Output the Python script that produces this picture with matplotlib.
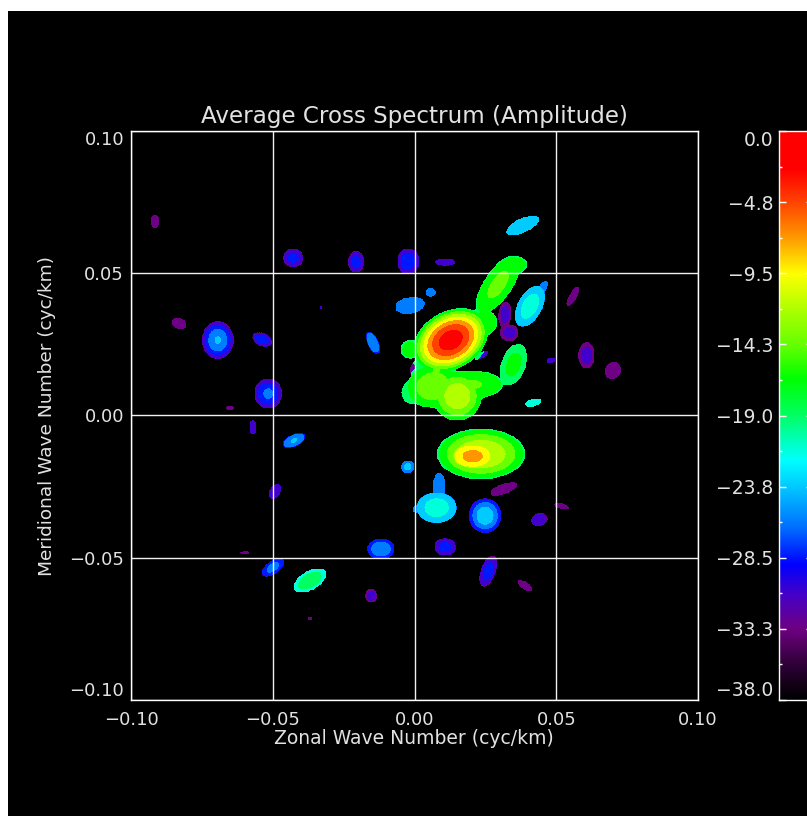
import numpy as np
import matplotlib
matplotlib.use("Agg")
import matplotlib.pyplot as plt
from matplotlib.colors import LinearSegmentedColormap, Normalize

W, H = 807, 816
plt.rcParams['font.family'] = ['DejaVu Sans']

title = "Average Cross Spectrum (Amplitude)"
xlabel = "Zonal Wave Number (cyc/km)"
ylabel = "Meridional Wave Number (cyc/km)"
axis_ticks = [-0.10, -0.05, 0.00, 0.05, 0.10]
axis_labels = ["\u22120.10", "\u22120.05", "0.00", "0.05", "0.10"]
cbar_ticks = [0.0, -4.75, -9.5, -14.25, -19.0, -23.75, -28.5, -33.25, -38.0]
cbar_labels = ["0.0", "\u22124.8", "\u22129.5", "\u221214.3", "\u221219.0", "\u221223.8", "\u221228.5", "\u221233.3", "\u221238.0"]
cbar_minor = [-2.375, -7.125, -11.875, -16.625, -21.375, -26.125, -30.875, -35.625]
levels = [-38.0, -33.25, -30.875, -28.5, -26.125, -23.75, -21.375, -19.0, -16.625,
          -14.25, -11.875, -9.5, -7.125, -4.75, -2.375, 0.0]

cmap_vals = [0, -2.5, -4.8, -7, -9.5, -12, -14.3, -16.5, -19, -22, -23.8, -26.5, -29, -31, -33.3, -35.5, -38]
cmap_rgb = [(255,0,0),(255,0,0),(255,70,0),(255,150,0),(255,255,0),(170,255,0),(100,255,0),(0,255,0),
            (0,255,100),(0,255,255),(0,200,255),(0,110,255),(0,0,255),(70,0,200),(110,0,130),(50,0,60),(0,0,0)]

# spectral patches
blob_x = [.0128,-.0016,.0249,.0078,.0295,.0343,.0151,.0065,.0206,-.0005,.0349,.0407,.0453,.0382,-.0022,.0108,-.0016,.0057,.0319,.0334,
          .0607,.0700,.0559,.0481,.0237,.0005,.0419,.0235,.0205,.0315,.0078,.0087,.0013,.0249,-.0024,.0440,
          .0519,.0108,-.0118,.0260,.0390,-.0915,-.0428,-.0206,-.0830,-.0694,-.0537,-.0147,-.0516,-.0651,
          -.0570,-.0425,-.0492,-.0499,-.0369,-.0153,-.0369,-.0598,-.0330]
blob_y = [.0265,.0232,.0327,.0162,.0460,.0525,.0068,.0103,.0109,.0081,.0179,.0384,.0450,.0668,.0542,.0539,.0387,.0433,.0355,.0291,
          .0211,.0158,.0419,.0194,.0212,.0170,.0045,-.0135,-.0143,-.0258,-.0324,-.0249,-.0330,-.0352,-.0180,-.0366,
          -.0319,-.0462,-.0469,-.0547,-.0598,.0683,.0554,.0540,.0323,.0265,.0267,.0256,.0077,.0027,
          -.0042,-.0088,-.0267,-.0534,-.0580,-.0633,-.0714,-.0482,.0380]
blob_peak = [-0.8,-16.0,-15.0,-14.0,-13.5,-15.5,-10.0,-12.5,-14.0,-17.5,-16.0,-20.0,-24.0,-22.5,-27.5,-29.0,-24.0,-26.0,-30.5,-30.5,
             -29.5,-31.5,-31.0,-30.0,-28.5,-31.5,-20.0,-9.5,-6.0,-32.0,-20.0,-24.0,-25.0,-22.0,-23.5,-29.0,
             -32.5,-27.5,-24.0,-27.0,-32.5,-33.0,-27.5,-27.5,-32.5,-23.5,-26.5,-24.0,-25.5,-31.5,
             -28.5,-23.5,-28.5,-25.0,-17.0,-30.0,-31.0,-32.0,-30.0]
blob_edge = [-17.5,-17.0,-17.0,-17.0,-17.0,-17.0,-17.0,-17.0,-17.0,-17.0,-18.0,-24.0,-25.0,-23.5,-30.0,-30.0,-25.5,-26.0,-31.5,-31.5,
             -33.0,-33.0,-33.0,-31.0,-30.0,-33.0,-21.5,-17.5,-9.5,-33.0,-24.0,-25.0,-25.5,-29.0,-24.5,-31.5,
             -33.0,-31.0,-28.5,-31.5,-33.0,-33.2,-31.5,-31.5,-33.0,-31.5,-31.5,-27.0,-31.5,-32.0,
             -29.5,-27.0,-31.0,-29.0,-21.0,-32.0,-32.0,-33.0,-30.5]
blob_major = [.0140,.0032,.0042,.0040,.0118,.0055,.0085,.0090,.0105,.0040,.0075,.0078,.0025,.0062,.0045,.0035,.0052,.0016,.0045,.0032,
              .0045,.0030,.0038,.0016,.0025,.0028,.0028,.0155,.0060,.0050,.0070,.0045,.0020,.0060,.0022,.0028,
              .0025,.0038,.0048,.0056,.0028,.0022,.0035,.0037,.0025,.0066,.0035,.0042,.0052,.0012,
              .0025,.0042,.0028,.0045,.0062,.0024,.0008,.0015,.0005]
blob_minor = [.0100,.0032,.0042,.0040,.0048,.0032,.0085,.0075,.0048,.0040,.0042,.0042,.0012,.0024,.0038,.0012,.0028,.0014,.0022,.0029,
              .0028,.0026,.0012,.0008,.0009,.0016,.0012,.0088,.0035,.0017,.0053,.0022,.0012,.0056,.0022,.0022,
              .0009,.0030,.0035,.0025,.0012,.0015,.0032,.0028,.0018,.0055,.0022,.0018,.0048,.0008,
              .0012,.0020,.0018,.0022,.0032,.0020,.0005,.0005,.0005]
blob_angle = [30,0,0,0,55,10,0,10,0,0,70,62,60,25,90,0,10,0,85,0,
              90,60,60,10,30,60,15,0,0,20,0,90,0,90,0,15,
              -15,0,0,70,-35,90,0,90,-20,90,-25,-65,90,0,
              90,25,60,35,30,90,0,0,0]

nx = 801
gx = np.linspace(-0.10, 0.10, nx)
gy = np.linspace(-0.10, 0.10, nx)
X, Y = np.meshgrid(gx, gy)
Z = np.full(X.shape, -60.0)
weight = np.zeros(X.shape)
soft = 0.12
for x0, y0, pk, ed, a, b, ang in zip(blob_x, blob_y, blob_peak, blob_edge, blob_major, blob_minor, blob_angle):
    t = np.deg2rad(ang)
    u = (X - x0) * np.cos(t) + (Y - y0) * np.sin(t)
    v = -(X - x0) * np.sin(t) + (Y - y0) * np.cos(t)
    d2 = (u / a) ** 2 + (v / b) ** 2
    weight += np.exp(-d2 / soft)
    f = np.where(d2 <= 1.2, pk - (pk - ed) * np.minimum(d2, 1.0), -60.0)
    Z = np.maximum(Z, f)
inside = weight >= np.exp(-1.0 / soft)
Z = np.ma.masked_where(~inside | (Z < -50.0), Z)

cmap = LinearSegmentedColormap.from_list(
    "spec", [((v + 38.0) / 38.0, tuple(c / 255 for c in rgb))
             for v, rgb in sorted(zip(cmap_vals, cmap_rgb))])
norm = Normalize(-38.0, 0.0)
band_colors = [cmap(norm(v)) for v in levels[:-1]]

fig = plt.figure(figsize=(W / 100, H / 100), dpi=100, facecolor="white")
bg = fig.add_axes([8 / W, 0, 1 - 8 / W, 1 - 11 / H])
bg.set_facecolor("black")
bg.set_xticks([]); bg.set_yticks([])
for s in bg.spines.values():
    s.set_visible(False)

TXT = "#e2e2e2"
L, R, T, B = 131, 698, 131, 700
ax = fig.add_axes([L / W, 1 - B / H, (R - L) / W, (B - T) / H], facecolor="black")
ax.contourf(X, Y, Z, levels=levels, colors=band_colors, antialiased=False)
ax.set_xlim(-0.10, 0.10)
ax.set_ylim(-0.10, 0.10)
ax.set_xticks(axis_ticks, axis_labels)
ax.set_yticks(axis_ticks, axis_labels)
ax.grid(True, color="white", lw=1.0, alpha=0.95)
ax.set_axisbelow(False)
ax.tick_params(axis="both", length=0, colors=TXT, labelsize=13)
ax.tick_params(axis="x", pad=8)
ax.tick_params(axis="y", pad=5)
yl = ax.get_yticklabels()
yl[0].set_va("bottom"); yl[-1].set_va("top")
for s in ax.spines.values():
    s.set_color("white"); s.set_linewidth(1.0)
fig.text(414 / W, 1 - 116 / H, title, color=TXT, fontsize=16.6, ha="center", va="center")
fig.text(414 / W, 1 - 739 / H, xlabel, color=TXT, fontsize=13.5, ha="center", va="center")
fig.text(47 / W, 1 - 416 / H, ylabel, color=TXT, fontsize=13.3, ha="center", va="center", rotation=90)

cax = fig.add_axes([779 / W, 1 - B / H, 34 / W, (B - T) / H], facecolor="black")
grad = np.linspace(-38.0, 0.0, 256).reshape(-1, 1)
cax.imshow(grad, origin="lower", aspect="auto", cmap=cmap, norm=norm, extent=[0, 1, -38.0, 0.0])
cax.set_xticks([])
cax.set_yticks(cbar_ticks, cbar_labels)
cax.set_yticks(cbar_minor, minor=True)
cax.tick_params(axis="y", which="major", direction="in", length=5, width=1, color="white",
                labelcolor=TXT, labelsize=13.5, pad=4, left=True, right=True)
cax.tick_params(axis="y", which="minor", direction="in", length=2.5, width=1, color="white", left=True, right=True)
cl = cax.get_yticklabels()
cl[0].set_va("top"); cl[-1].set_va("bottom")
for s in cax.spines.values():
    s.set_color("white"); s.set_linewidth(1.0)

fig.savefig("out.png", dpi=100, facecolor=fig.get_facecolor())
